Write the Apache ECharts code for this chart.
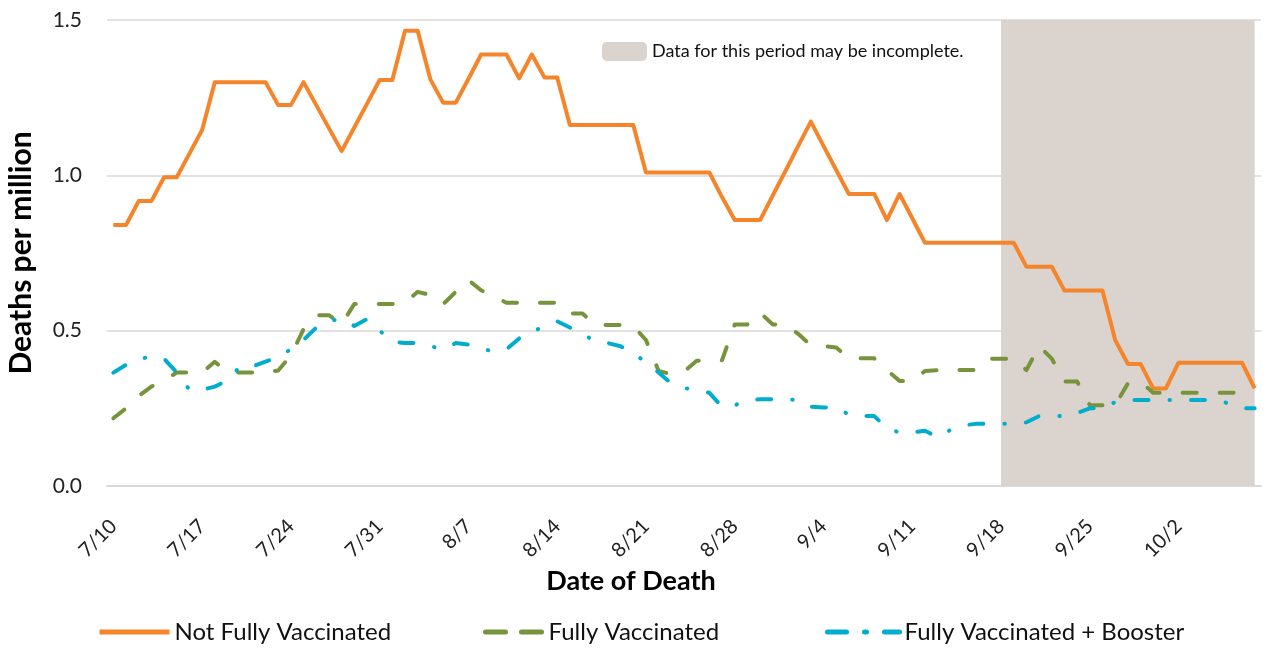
<!DOCTYPE html>
<html>
<head>
<meta charset="utf-8">
<script src="https://cdn.jsdelivr.net/npm/echarts@6/dist/echarts.min.js"></script>
<style>
  html, body { margin: 0; padding: 0; background: #fff; }
  #chart { width: 1270px; height: 648px; }
</style>
</head>
<body>
<div id="chart"></div>
<script>
// dates of death, 7/10 .. 10/8
const dates = [
  '7/10','7/11','7/12','7/13','7/14','7/15','7/16','7/17','7/18','7/19','7/20','7/21','7/22','7/23','7/24','7/25',
  '7/26','7/27','7/28','7/29','7/30','7/31',
  '8/1','8/2','8/3','8/4','8/5','8/6','8/7','8/8','8/9','8/10','8/11','8/12','8/13','8/14','8/15','8/16',
  '8/17','8/18','8/19','8/20','8/21','8/22','8/23','8/24','8/25','8/26','8/27','8/28','8/29','8/30','8/31',
  '9/1','9/2','9/3','9/4','9/5','9/6','9/7','9/8','9/9','9/10','9/11','9/12','9/13','9/14','9/15','9/16',
  '9/17','9/18','9/19','9/20','9/21','9/22','9/23','9/24','9/25','9/26','9/27','9/28','9/29','9/30',
  '10/1','10/2','10/3','10/4','10/5','10/6','10/7','10/8'
];

const notFully = [
  0.84, 0.84, 0.917, 0.917, 0.994, 0.994, 1.07, 1.146, 1.30, 1.30,
  1.30, 1.30, 1.30, 1.226, 1.226, 1.30, 1.226, 1.152, 1.078, 1.154,
  1.23, 1.307, 1.307, 1.465, 1.465, 1.309, 1.234, 1.234, 1.31, 1.389,
  1.389, 1.389, 1.312, 1.389, 1.315, 1.315, 1.162, 1.162, 1.162, 1.162,
  1.162, 1.162, 1.009, 1.009, 1.009, 1.009, 1.009, 1.009, 0.93, 0.856,
  0.856, 0.856, 0.935, 1.014, 1.094, 1.173, 1.095, 1.017, 0.94, 0.94,
  0.94, 0.856, 0.94, 0.862, 0.783, 0.783, 0.783, 0.783, 0.783, 0.783,
  0.783, 0.783, 0.706, 0.706, 0.706, 0.629, 0.629, 0.629, 0.629, 0.47,
  0.393, 0.393, 0.314, 0.314, 0.397, 0.397, 0.397, 0.397, 0.397, 0.397,
  0.314
];

const fully = [
  0.218, 0.25, 0.29, 0.32, 0.34, 0.365, 0.365, 0.365, 0.40, 0.365,
  0.365, 0.365, 0.365, 0.372, 0.42, 0.505, 0.55, 0.55, 0.52, 0.586,
  0.586, 0.586, 0.586, 0.59, 0.625, 0.615, 0.585, 0.625, 0.663, 0.63,
  0.61, 0.59, 0.59, 0.59, 0.59, 0.59, 0.555, 0.555, 0.518, 0.518,
  0.518, 0.515, 0.47, 0.37, 0.36, 0.368, 0.403, 0.405, 0.405, 0.52,
  0.52, 0.558, 0.52, 0.52, 0.49, 0.453, 0.45, 0.446, 0.411, 0.411,
  0.411, 0.373, 0.338, 0.338, 0.37, 0.373, 0.373, 0.373, 0.373, 0.41,
  0.41, 0.41, 0.373, 0.45, 0.41, 0.336, 0.336, 0.26, 0.26, 0.26,
  0.33, 0.336, 0.30, 0.30, 0.30, 0.30, 0.30, 0.30, 0.30, 0.30,
  0.30
];

const booster = [
  0.365, 0.39, 0.41, 0.415, 0.41, 0.365, 0.31, 0.31, 0.32, 0.34,
  0.385, 0.385, 0.40, 0.415, 0.44, 0.47, 0.51, 0.53, 0.54, 0.515,
  0.537, 0.50, 0.465, 0.46, 0.46, 0.45, 0.44, 0.46, 0.455, 0.44,
  0.435, 0.44, 0.475, 0.50, 0.51, 0.53, 0.51, 0.49, 0.465, 0.46,
  0.45, 0.425, 0.40, 0.365, 0.33, 0.315, 0.31, 0.30, 0.255, 0.26,
  0.275, 0.279, 0.279, 0.279, 0.277, 0.255, 0.253, 0.253, 0.23, 0.225,
  0.225, 0.186, 0.172, 0.172, 0.178, 0.157, 0.18, 0.195, 0.2, 0.2,
  0.2, 0.2, 0.205, 0.225, 0.225, 0.225, 0.235, 0.25, 0.25, 0.27,
  0.277, 0.277, 0.277, 0.277, 0.277, 0.277, 0.277, 0.277, 0.265, 0.25,
  0.25
];

const incompleteFrom = '9/18';
const incompleteTo = '10/8';
const incompleteNote = 'Data for this period may be incomplete.';

const font = 'Lato';
const orange = '#f5852a';
const green = '#77933c';
const blue = '#00adcc';
const shade = '#dbd3ce';

const chart = echarts.init(document.getElementById('chart'));

const legendText = { fontFamily: font, fontSize: 24, color: '#111' };
// hide the marker dot that line legends draw by default
const noDot = { color: 'transparent', borderWidth: 0, opacity: 0 };

chart.setOption({
  animation: false,
  grid: { left: 107, right: 9, top: 20, bottom: 162, containLabel: false, outerBoundsMode: 'none' },
  legend: [
    { data: ['Not Fully Vaccinated'], left: 97, top: 620, padding: 0, itemWidth: 70, itemHeight: 14,
      textStyle: legendText, itemStyle: noDot, lineStyle: { width: 5 } },
    { data: ['Fully Vaccinated'], left: 483, top: 620, padding: 0, itemWidth: 58, itemHeight: 14,
      textStyle: legendText, itemStyle: noDot, lineStyle: { width: 5, type: [20, 16] } },
    { data: ['Fully Vaccinated + Booster'], left: 825, top: 620, padding: 0, itemWidth: 72, itemHeight: 14,
      textStyle: legendText, itemStyle: noDot, lineStyle: { width: 5, type: [19, 18, 2, 18] } },
    { data: [{ name: incompleteNote, icon: 'roundRect', itemStyle: { color: shade } }],
      left: 602, top: 42, padding: 0, itemWidth: 45, itemHeight: 19,
      textStyle: { fontFamily: font, fontSize: 18, color: '#111' } }
  ],
  xAxis: {
    type: 'category',
    data: dates,
    boundaryGap: true,
    name: 'Date of Death',
    nameLocation: 'middle',
    nameGap: 78,
    nameTextStyle: { fontFamily: font, fontWeight: 'bold', fontSize: 27, color: '#000', padding: [0, 106, 0, 0] },
    axisLine: { lineStyle: { color: '#d9d9d9', width: 2 } },
    axisTick: { interval: 6, length: 6, lineStyle: { color: '#d9d9d9', width: 2 } },
    axisLabel: { interval: 6, rotate: 45, margin: 37, fontFamily: font, fontSize: 20, color: '#222' }
  },
  yAxis: {
    type: 'value',
    min: 0,
    max: 1.5,
    interval: 0.5,
    name: 'Deaths per million',
    nameLocation: 'middle',
    nameGap: 71,
    nameTextStyle: { fontFamily: font, fontWeight: 'bold', fontSize: 30, color: '#000' },
    axisLine: { show: false },
    axisTick: { show: false },
    axisLabel: { formatter: v => v.toFixed(1), margin: 25, fontFamily: font, fontSize: 21, color: '#222' },
    splitLine: { lineStyle: { color: '#d9d9d9', width: 1.5 } }
  },
  series: [
    {
      name: incompleteNote,
      type: 'line',
      data: [],
      z: 1,
      color: shade,
      markArea: {
        silent: true,
        itemStyle: { color: shade },
        data: [[{ xAxis: incompleteFrom, yAxis: 1.5 }, { xAxis: incompleteTo, yAxis: 0 }]]
      }
    },
    {
      name: 'Not Fully Vaccinated',
      type: 'line',
      data: notFully,
      symbol: 'none',
      color: orange,
      lineStyle: { color: orange, width: 4, join: 'round' },
      z: 3
    },
    {
      name: 'Fully Vaccinated',
      type: 'line',
      data: fully,
      symbol: 'none',
      color: green,
      lineStyle: { color: green, width: 4, type: [14, 23], cap: 'round', join: 'round' },
      z: 3
    },
    {
      name: 'Fully Vaccinated + Booster',
      type: 'line',
      data: booster,
      symbol: 'none',
      color: blue,
      lineStyle: { color: blue, width: 4, type: [14, 21, 0.5, 21], cap: 'round', join: 'round' },
      z: 3
    }
  ]
});
</script>
</body>
</html>
